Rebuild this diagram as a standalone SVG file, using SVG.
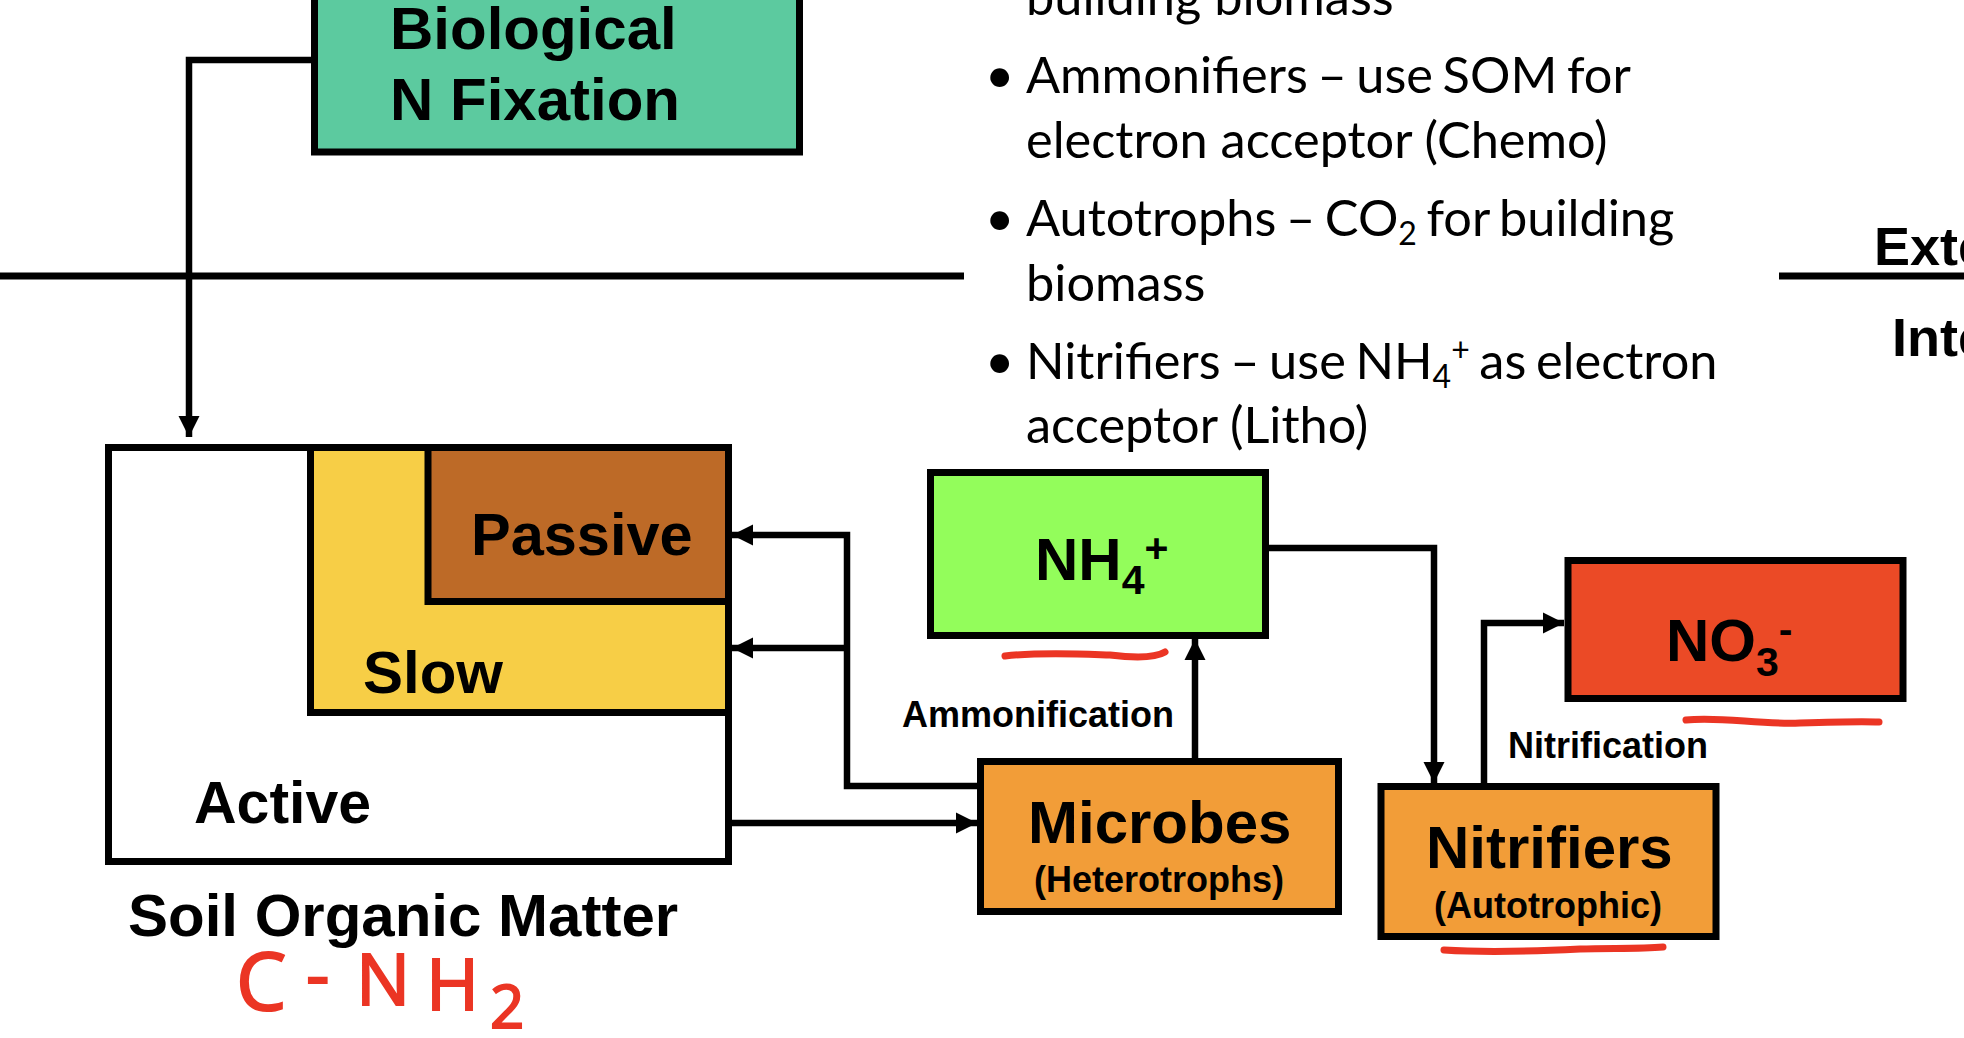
<svg xmlns="http://www.w3.org/2000/svg" width="1964" height="1038" viewBox="0 0 1964 1038">
<style>
.box{stroke:#000;stroke-width:7}
.c{fill:none;stroke:#000;stroke-width:6.500}
.rule{fill:none;stroke:#000;stroke-width:7}
.b{font-family:"Liberation Sans",Arial,sans-serif;font-weight:700;fill:#000}
.l{font-size:60px}
.m{font-size:36px}
.s{font-size:41px}
.t{font-family:Lato,"Noto Sans",sans-serif;font-size:50.500px;fill:#000}
.d{word-spacing:-3.300px}
.ink{fill:none;stroke:#EB3524;stroke-width:7;stroke-linecap:round}
.hand{font-family:"Open Sans",sans-serif;fill:#EB3524;stroke:#EB3524;stroke-width:2}
</style>
<defs>
<marker id="a" markerUnits="userSpaceOnUse" markerWidth="21" markerHeight="22" refX="21" refY="11" orient="auto"><path d="M0 0.500L21 11L0 21.500Z" fill="#000"/></marker>
</defs>
<rect width="1964" height="1038" fill="#fff"/>
<g id="connectors">
<path class="rule" d="M0 276H964M1779 276H1964"/>
<path class="c" marker-end="url(#a)" d="M311 60H189V437"/>
<path class="c" marker-end="url(#a)" d="M977 786H847V535H732"/>
<path class="c" marker-end="url(#a)" d="M847 648H732"/>
<path class="c" marker-end="url(#a)" d="M732 823H977"/>
<path class="c" marker-end="url(#a)" d="M1195 758V639"/>
<path class="c" marker-end="url(#a)" d="M1269 548H1434V783"/>
<path class="c" marker-end="url(#a)" d="M1484 783V623H1564"/>
<text class="b m" x="902" y="727">Ammonification</text>
<text class="b m" x="1508" y="758">Nitrification</text>
</g>
<g id="bio"><rect class="box" x="314.500" y="-20" width="485" height="172" fill="#5CCA9F"/>
<text class="b l" x="390" y="49">Biological</text><text class="b l" x="390" y="120">N Fixation</text></g>
<g id="som"><rect class="box" x="108.500" y="447.500" width="620" height="414" fill="#fff"/>
<text class="b" font-size="59" x="194" y="823">Active</text></g>
<g id="slow"><rect class="box" x="310.500" y="447.500" width="418" height="265" fill="#F7CE46"/>
<text class="b l" x="363" y="693">Slow</text></g>
<g id="passive"><rect class="box" x="428" y="447.500" width="300.500" height="154" fill="#BD6A27"/>
<text class="b" font-size="59.500" x="471" y="555">Passive</text></g>
<g id="som-label"><text class="b l" x="128" y="936">Soil Organic Matter</text>
<text class="hand" font-size="80"><tspan x="236" y="1010">C</tspan><tspan x="306" y="1000" font-size="73">-</tspan><tspan x="356" y="1005" font-size="72">N</tspan><tspan x="426" y="1010" font-size="72">H</tspan><tspan x="490" y="1028" font-size="60">2</tspan></text></g>
<g id="nh4"><rect class="box" x="930.500" y="472.500" width="335" height="163" fill="#93FD5B"/>
<text class="b l" x="1035" y="580">NH<tspan class="s" dy="14">4</tspan><tspan class="s" dy="-32">+</tspan></text>
<path class="ink" d="M1005 656C1040 652 1080 654 1110 655C1135 658 1155 658 1165 652"/></g>
<g id="no3"><rect class="box" x="1568" y="560.500" width="335" height="138" fill="#EB4A26"/>
<text class="b l" x="1666" y="661">NO<tspan class="s" dy="15">3</tspan><tspan class="s" dy="-33">-</tspan></text>
<path class="ink" d="M1686 720C1720 716 1760 725 1800 723C1830 722 1860 721 1879 722"/></g>
<g id="microbes"><rect class="box" x="980.500" y="761.500" width="358" height="150" fill="#F29D38"/>
<text class="b l" x="1028" y="843">Microbes</text><text class="b m" x="1034" y="892">(Heterotrophs)</text></g>
<g id="nitrifiers"><rect class="box" x="1381" y="786.500" width="335" height="150" fill="#F29D38"/>
<text class="b l" x="1426" y="868">Nitrifiers</text><text class="b m" x="1434" y="918">(Autotrophic)</text>
<path class="ink" d="M1444 950C1490 953 1540 951 1580 949C1610 948 1640 949 1663 947"/></g>
<g id="notes">
<text class="t" x="1026" y="15">building biomass</text>
<text class="t d"><tspan x="985" y="93">•</tspan><tspan x="1026">Ammonifiers – use SOM for</tspan></text>
<text class="t" x="1026" y="158">electron acceptor (Chemo)</text>
<text class="t d"><tspan x="985" y="236">•</tspan><tspan x="1026">Autotrophs – CO</tspan><tspan font-size="32" dy="9">2</tspan><tspan dy="-9"> for building</tspan></text>
<text class="t" x="1026" y="301">biomass</text>
<text class="t d"><tspan x="985" y="379">•</tspan><tspan x="1026">Nitrifiers – use NH</tspan><tspan font-size="32" dy="9">4</tspan><tspan font-size="32" dy="-27">+</tspan><tspan dy="18"> as electron</tspan></text>
<text class="t" x="1026" y="443">acceptor (Litho)</text>
</g>
<g id="scope"><text class="b" font-size="54" x="1874" y="265">External</text><text class="b" font-size="54" x="1892" y="356">Internal</text></g>
</svg>
